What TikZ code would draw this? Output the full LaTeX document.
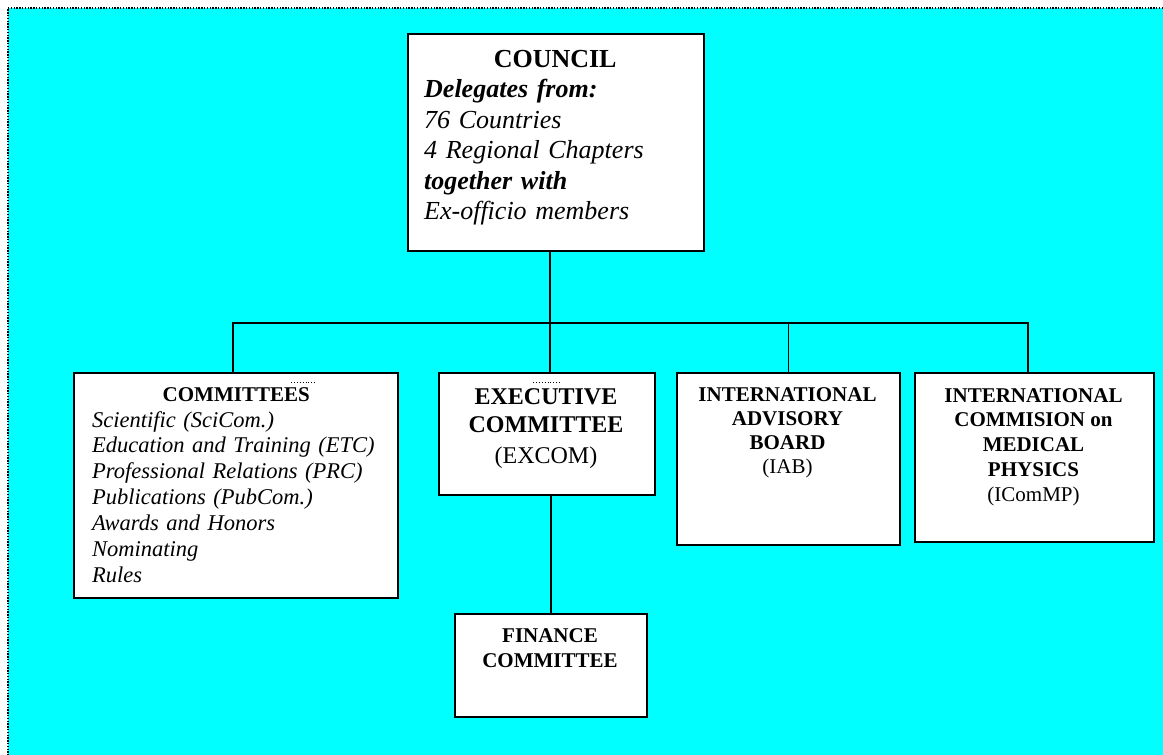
\documentclass[tikz,border=0pt]{standalone}
\usepackage{fontspec}
\setmainfont{Liberation Serif}
\usetikzlibrary{positioning}
\definecolor{bgcyan}{RGB}{0,255,255}
\setlength{\parindent}{0pt}

\tikzset{
  orgbox/.style={draw, fill=white, line width=1.8pt, inner sep=0pt, anchor=north west},
  boxtext/.style={inner sep=0pt, anchor=north},
  link/.style={line width=1.5pt},
  smarttag/.style={line width=0.9pt, dash pattern=on 0.9pt off 2pt}
}

\begin{document}
\begin{tikzpicture}[x=1pt, y=-1pt]
	\useasboundingbox (0,0) rectangle (1163,755);
	\fill [bgcyan] (8,8) rectangle (1163,755);
	\draw [line width=1.6pt, black, dash pattern=on 1.4pt off 1.4pt] (1163,8) -- (8,8) -- (8,755);

	% boxes
	\node[orgbox, minimum width=296pt, minimum height=217pt] (council) at (407,33) {};
	\node[orgbox, minimum width=324pt, minimum height=225pt] (comm) at (73,372) {};
	\node[orgbox, minimum width=216pt, minimum height=122pt] (excom) at (438,372) {};
	\node[orgbox, minimum width=223pt, minimum height=172pt] (iab) at (676,372) {};
	\node[orgbox, minimum width=239pt, minimum height=169pt] (icmp) at (914,372) {};
	\node[orgbox, minimum width=192pt, minimum height=103pt] (finance) at (454,613) {};

	% texts
	\node[boxtext, anchor=north west, text width=262pt, font=\fontsize{26}{30.5}\selectfont] (council-txt) at (424,50)
		{{\centering\bfseries COUNCIL\par}
		\textbf{\textit{Delegates from:}}\\
		\textit{76 Countries}\\
		\textit{4 Regional Chapters}\\
		\textbf{\textit{together with}}\\
		\textit{Ex-officio members}};
	\node[boxtext, anchor=north west, text width=288pt, font=\fontsize{22.5}{25.9}\selectfont] (comm-txt) at (92,387)
		{{\centering\fontsize{21}{25.9}\selectfont\bfseries COMMITTEES\par}
		\itshape Scientific (SciCom.)\\
		Education and Training (ETC)\\
		Professional Relations (PRC)\\
		Publications (PubCom.)\\
		Awards and Honors\\
		Nominating\\
		Rules};
	\node[boxtext, align=center, font=\fontsize{24}{28}\selectfont] (excom-txt) at (546,388)
		{\textbf{EXECUTIVE}\\\textbf{COMMITTEE}\\[3pt](EXCOM)};
	\node[boxtext, align=center, font=\fontsize{21}{24}\selectfont] (iab-txt) at (787.5,387)
		{\textbf{INTERNATIONAL}\\\textbf{ADVISORY}\\\textbf{BOARD}\\(IAB)};
	\node[boxtext, align=center, font=\fontsize{21}{24.8}\selectfont] (icmp-txt) at (1033.5,388)
		{\textbf{INTERNATIONAL}\\\textbf{COMMISION on}\\\textbf{MEDICAL}\\\textbf{PHYSICS}\\(IComMP)};
	\node[boxtext, align=center, font=\fontsize{21}{25}\selectfont] (finance-txt) at (550,628)
		{\textbf{FINANCE}\\\textbf{COMMITTEE}};

	% connectors
	\coordinate (bus) at (550,323);
	\draw[link] (bus |- council.south) -- (bus |- excom.north);
	\draw[link] ([xshift=-3pt]comm.north) |- (bus) -| ([xshift=-6.5pt]icmp.north);
	\draw[link] (iab.north) -- (iab.north |- bus);
	\draw[link] (finance.north |- excom.south) -- (finance.north);

	% dotted marks over the headings
	\draw[smarttag] (291,382) -- (317,382);
	\draw[smarttag] (533,382) -- (560,382);
\end{tikzpicture}
\end{document}
